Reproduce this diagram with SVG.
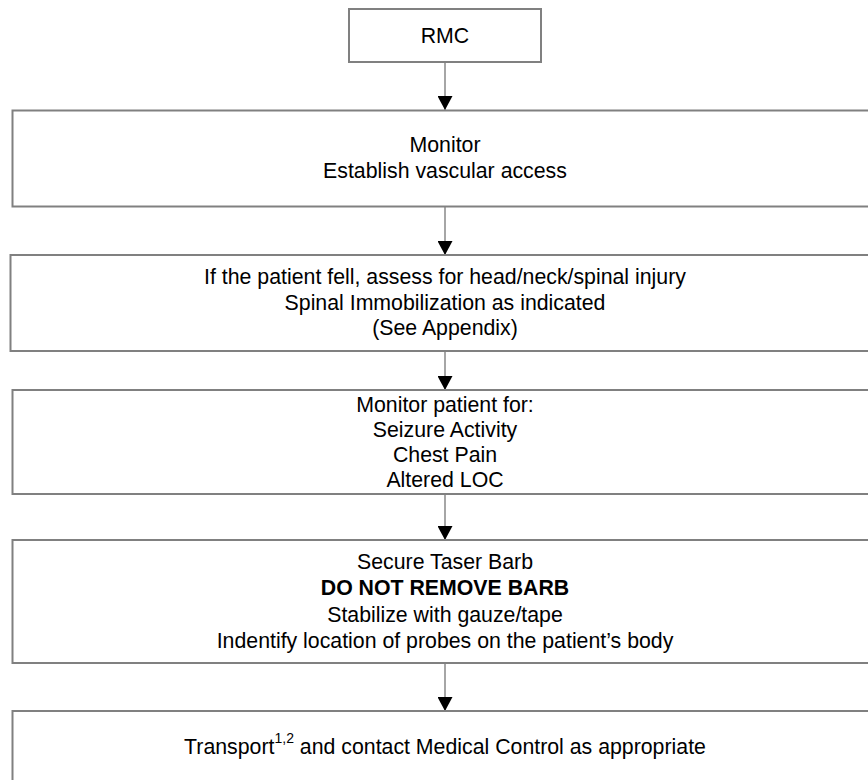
<svg xmlns="http://www.w3.org/2000/svg" width="868" height="780" viewBox="0 0 868 780">
<style>
.box{fill:#ffffff;stroke:#808080;stroke-width:2}
.t{font-family:"Liberation Sans",Arial,sans-serif;font-size:21.3px;fill:#000000;text-anchor:middle}
.b{font-weight:bold}
.conn{stroke:#808080;stroke-width:1.4;fill:none}
</style>
<defs>
<marker id="ah" markerUnits="userSpaceOnUse" markerWidth="14" markerHeight="15" refX="14" refY="7.5" orient="auto">
<path d="M0,0 L14,7.5 L0,15 z" fill="#000000"/>
</marker>
</defs>
<rect width="868" height="780" fill="#ffffff"/>
<g id="connectors">
<line class="conn" x1="445" y1="62" x2="445" y2="110" marker-end="url(#ah)"/>
<line class="conn" x1="445" y1="207" x2="445" y2="255" marker-end="url(#ah)"/>
<line class="conn" x1="445" y1="351" x2="445" y2="390" marker-end="url(#ah)"/>
<line class="conn" x1="445" y1="494" x2="445" y2="540" marker-end="url(#ah)"/>
<line class="conn" x1="445" y1="663" x2="445" y2="711" marker-end="url(#ah)"/>
</g>
<g id="n1">
<rect class="box" x="349" y="9" width="192" height="53"/>
<text class="t" x="445" y="43">RMC</text>
</g>
<g id="n2">
<rect class="box" x="12.5" y="110.5" width="870" height="96"/>
<text class="t" x="445" y="152">Monitor</text>
<text class="t" x="445" y="178">Establish vascular access</text>
</g>
<g id="n3">
<rect class="box" x="10.5" y="255" width="872" height="96"/>
<text class="t" x="445" y="284">If the patient fell, assess for head/neck/spinal injury</text>
<text class="t" x="445" y="309.5">Spinal Immobilization as indicated</text>
<text class="t" x="445" y="335">(See Appendix)</text>
</g>
<g id="n4">
<rect class="box" x="12.5" y="390" width="870" height="104"/>
<text class="t" x="445" y="411.5">Monitor patient for:</text>
<text class="t" x="445" y="436.5">Seizure Activity</text>
<text class="t" x="445" y="461.5">Chest Pain</text>
<text class="t" x="445" y="486.5">Altered LOC</text>
</g>
<g id="n5">
<rect class="box" x="12.5" y="540" width="870" height="123"/>
<text class="t" x="445" y="568.5">Secure Taser Barb</text>
<text class="t b" x="445" y="595">DO NOT REMOVE BARB</text>
<text class="t" x="445" y="621.5">Stabilize with gauze/tape</text>
<text class="t" x="445" y="647.5">Indentify location of probes on the patient’s body</text>
</g>
<g id="n6">
<rect class="box" x="12.5" y="711" width="870" height="100"/>
<text class="t" x="445" y="754">Transport<tspan font-size="14px" dy="-11">1,2</tspan><tspan dy="11"> and contact Medical Control as appropriate</tspan></text>
</g>
</svg>
